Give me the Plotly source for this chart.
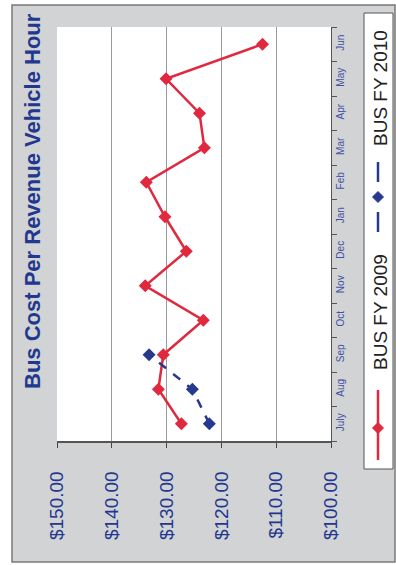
import plotly.graph_objects as go

months = ["July", "Aug", "Sep", "Oct", "Nov", "Dec", "Jan", "Feb", "Mar", "Apr", "May", "Jun"]
fy2009 = [127.3, 131.5, 130.6, 123.3, 133.9, 126.4, 130.3, 133.7, 123.1, 124.0, 130.1, 112.5]
fy2010_months = ["July", "Aug", "Sep"]
fy2010 = [122.2, 125.3, 133.2]
value_ticks = [150, 140, 130, 120, 110, 100]
value_tick_labels = ["$150.00", "$140.00", "$130.00", "$120.00", "$110.00", "$100.00"]
series_names = ["BUS FY 2009", "BUS FY 2010"]
title_text = "Bus Cost Per Revenue Vehicle Hour"

W, H = 396, 565
L, R, T, B = 57, 331, 27, 441  # plot area in pixels

def px(x):
    return (x - L) / (R - L)

def py(y):
    return (B - y) / (B - T)

RED = "#e0283f"
BLUE = "#27398c"
NAVY = "#22388f"

fig = go.Figure()
fig.add_trace(go.Scatter(
    x=fy2009, y=months, mode="lines+markers", name=series_names[0],
    line=dict(color=RED, width=2.5),
    marker=dict(symbol="diamond", size=10, color=RED),
))
fig.add_trace(go.Scatter(
    x=fy2010, y=fy2010_months, mode="lines+markers", name=series_names[1],
    line=dict(color=BLUE, width=2.5, dash="dash"),
    marker=dict(symbol="diamond", size=10, color=BLUE),
))

shapes = []
shapes.append(dict(type="rect", xref="paper", yref="paper",
                   x0=px(12), x1=px(395), y0=py(562), y1=py(5),
                   fillcolor="#d2d3d5", line=dict(color="#7a7a7a", width=1.5), layer="below"))
shapes.append(dict(type="rect", xref="paper", yref="paper",
                   x0=0, x1=1, y0=0, y1=1,
                   fillcolor="white", line=dict(width=0), layer="below"))
shapes.append(dict(type="rect", xref="paper", yref="paper",
                   x0=px(364), x1=px(393), y0=py(469), y1=py(13),
                   fillcolor="white", line=dict(color="#555555", width=1)))
lx = 378
shapes.append(dict(type="line", xref="paper", yref="paper",
                   x0=px(lx), x1=px(lx), y0=py(460), y1=py(390),
                   line=dict(color=RED, width=2.5)))
shapes.append(dict(type="line", xref="paper", yref="paper",
                   x0=px(lx), x1=px(lx), y0=py(232), y1=py(212),
                   line=dict(color=BLUE, width=2.5)))
shapes.append(dict(type="line", xref="paper", yref="paper",
                   x0=px(lx), x1=px(lx), y0=py(182), y1=py(162),
                   line=dict(color=BLUE, width=2.5)))

def diamond(cx, cy, r, color):
    return dict(type="path", xref="paper", yref="paper",
                path=f"M {px(cx-r)} {py(cy)} L {px(cx)} {py(cy-r)} L {px(cx+r)} {py(cy)} L {px(cx)} {py(cy+r)} Z",
                fillcolor=color, line=dict(color=color, width=1))

shapes.append(diamond(lx, 428, 5.5, RED))
shapes.append(diamond(lx, 197, 5.5, BLUE))

annotations = [
    dict(text=f"<b>{title_text}</b>", xref="paper", yref="paper",
         x=px(32), y=py(201), textangle=-90, showarrow=False,
         font=dict(family="Arial, Liberation Sans", size=22, color=NAVY),
         xanchor="center", yanchor="middle"),
    dict(text=series_names[0], xref="paper", yref="paper",
         x=px(380), y=py(312), textangle=-90, showarrow=False,
         font=dict(family="Arial, Liberation Sans", size=19, color="#222222"),
         xanchor="center", yanchor="middle"),
    dict(text=series_names[1], xref="paper", yref="paper",
         x=px(380), y=py(88), textangle=-90, showarrow=False,
         font=dict(family="Arial, Liberation Sans", size=19, color="#222222"),
         xanchor="center", yanchor="middle"),
]

fig.update_layout(
    width=W, height=H, autosize=False,
    margin=dict(l=L, r=W - R, t=T, b=H - B, pad=0),
    paper_bgcolor="white", plot_bgcolor="rgba(0,0,0,0)",
    showlegend=False,
    shapes=shapes, annotations=annotations,
    xaxis=dict(range=[150, 100], tickvals=value_ticks, ticktext=value_tick_labels,
               tickangle=-90, ticks="outside", ticklen=5, tickcolor="#444444",
               showgrid=True, gridcolor="#9a9a9a", gridwidth=1,
               showline=True, linecolor="#555555", linewidth=1.5,
               zeroline=False, ticklabelstandoff=16,
               tickfont=dict(family="Arial, Liberation Sans", size=19, color=NAVY)),
    yaxis=dict(categoryorder="array", categoryarray=months, side="right",
               range=[-0.5, 11.5], tickangle=-90, ticks="outside", ticklen=5,
               tickson="boundaries", tickcolor="#555555",
               showgrid=False, showline=True, linecolor="#555555", linewidth=1,
               zeroline=False,
               tickfont=dict(family="Arial, Liberation Sans", size=10, color="#3f51a3")),
)

fig.write_html("out.html", config={"displayModeBar": False},
               post_script="document.body.style.margin='0';")
